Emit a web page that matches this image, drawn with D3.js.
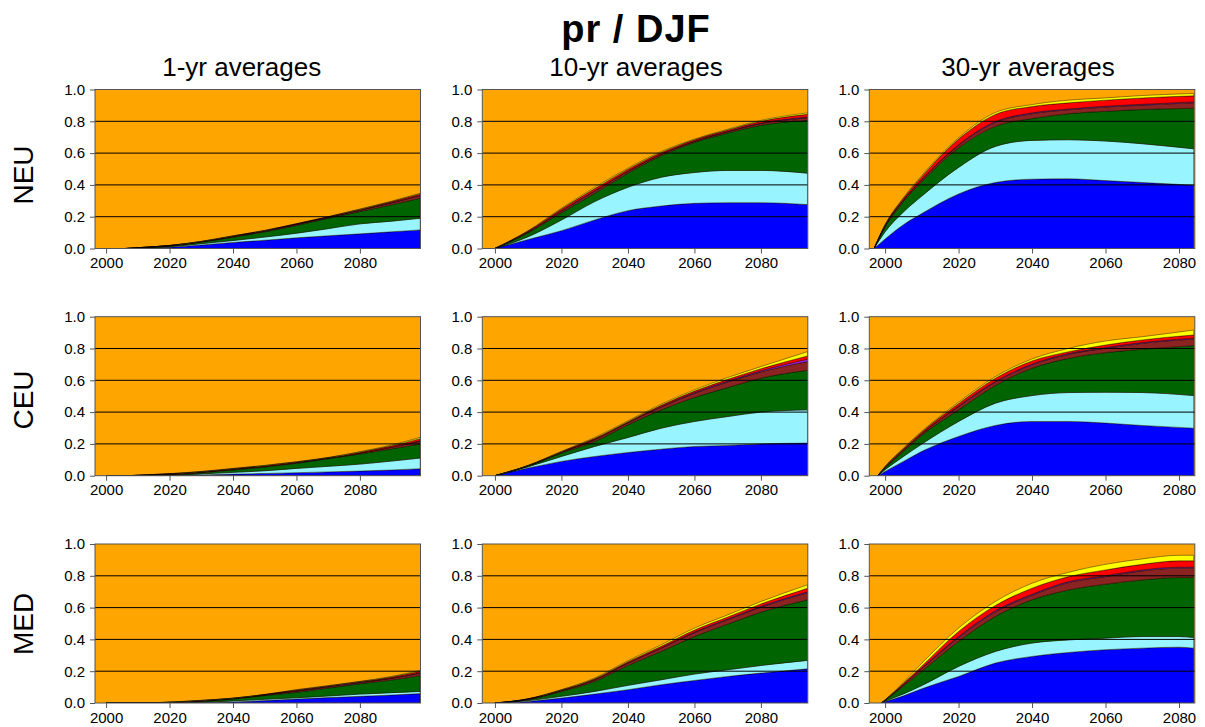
<!DOCTYPE html>
<html>
<head>
<meta charset="utf-8">
<script src="https://cdn.jsdelivr.net/npm/d3@7"></script>
<style>
  html, body { margin: 0; padding: 0; background: #ffffff; }
  svg { display: block; }
</style>
</head>
<body>
<script>
// ---------- DATA ----------
const title = "pr / DJF";
const regions = ["NEU", "CEU", "MED"];
const windows = ["1-yr averages", "10-yr averages", "30-yr averages"];
const layerKeys = ["blue", "cyan", "green", "brown", "purple", "red", "yellow"];
const layerColors = ["#0000FF", "#98F5FF", "#006400", "#8B2323", "#A020F0", "#FF0000", "#FFFF00"];
const backgroundColor = "#FFA500";
const yTicks = [0, 0.2, 0.4, 0.6, 0.8, 1.0];
const xTicks = [2000, 2020, 2040, 2060, 2080];

const years1 = [2000, 2006, 2010, 2020, 2030, 2040, 2050, 2060, 2070, 2080, 2090, 2099];
const years10 = [2000, 2010, 2020, 2030, 2040, 2050, 2060, 2070, 2080, 2094];
const years30NEU = [1997, 2000, 2005, 2010, 2020, 2030, 2040, 2050, 2060, 2070, 2084];
const years30CEU = [1998, 2000, 2005, 2010, 2020, 2030, 2040, 2050, 2060, 2070, 2084];
const years30MED = [1999, 2000, 2005, 2010, 2020, 2030, 2040, 2050, 2060, 2070, 2080, 2084];

// each row: [blue, cyan, green, brown, purple, red, yellow]
const NEU_1yr = [
  [0,0,0,0,0,0,0],
  [0,0,0,0,0,0,0],
  [.001,.001,.002,.001,0,0,0],
  [.008,.003,.005,.002,0,.001,0],
  [.022,.008,.010,.002,.001,.001,.001],
  [.038,.012,.021,.004,.001,.003,.001],
  [.052,.020,.033,.004,.001,.003,.001],
  [.067,.029,.049,.006,.001,.003,.001],
  [.080,.045,.065,.005,.001,.003,.001],
  [.092,.063,.077,.008,.002,.004,.002],
  [.105,.067,.103,.012,.002,.006,.003],
  [.117,.073,.126,.016,.003,.008,.004]
];
const NEU_10yr = [
  [0,0,0,0,0,0,0],
  [.057,.017,.025,.005,.001,.005,.002],
  [.112,.067,.046,.010,.003,.010,.005],
  [.180,.115,.052,.013,.004,.013,.008],
  [.238,.147,.089,.011,.003,.011,.006],
  [.267,.181,.135,.009,.003,.009,.006],
  [.284,.194,.189,.007,.002,.008,.004],
  [.288,.203,.235,.008,.003,.008,.005],
  [.288,.203,.284,.011,.003,.011,.006],
  [.276,.198,.332,.016,.005,.017,.009]
];
const NEU_30yr = [
  [0,0,0,0,0,0,0],
  [.060,.045,.030,.006,.002,.005,.002],
  [.150,.080,.065,.009,.002,.010,.004],
  [.220,.110,.090,.012,.003,.018,.007],
  [.343,.167,.122,.017,.004,.035,.008],
  [.415,.227,.126,.025,.005,.045,.012],
  [.436,.244,.137,.031,.005,.040,.012],
  [.438,.246,.164,.025,.005,.038,.017],
  [.427,.249,.187,.027,.005,.038,.014],
  [.415,.244,.215,.028,.005,.040,.015],
  [.398,.229,.255,.035,.005,.038,.015]
];
const CEU_1yr = [
  [0,0,0,0,0,0,0],
  [0,0,0,0,0,0,0],
  [0,0,.001,.001,0,.001,0],
  [.001,.001,.004,.003,.001,.002,.001],
  [.005,.006,.008,.003,.001,.002,.002],
  [.010,.011,.015,.004,.001,.003,.002],
  [.014,.017,.024,.004,.001,.003,.002],
  [.019,.027,.032,.004,.001,.003,.002],
  [.024,.035,.048,.003,.001,.002,.002],
  [.029,.044,.063,.006,.001,.005,.003],
  [.036,.056,.077,.010,.002,.007,.005],
  [.044,.067,.088,.017,.004,.013,.008]
];
const CEU_10yr = [
  [0,0,0,0,0,0,0],
  [.048,.008,.005,.002,0,.001,.001],
  [.090,.031,.021,.005,.001,.003,.002],
  [.121,.063,.031,.012,.002,.006,.005],
  [.146,.094,.080,.013,.002,.005,.005],
  [.167,.132,.115,.018,.004,.007,.007],
  [.184,.157,.151,.026,.005,.009,.008],
  [.190,.182,.182,.035,.006,.011,.011],
  [.200,.200,.213,.040,.007,.013,.013],
  [.205,.209,.249,.055,.015,.020,.027]
];
const CEU_30yr = [
  [0,0,0,0,0,0,0],
  [.027,.011,.010,.004,.001,.004,.002],
  [.090,.031,.032,.009,.002,.006,.004],
  [.153,.046,.056,.009,.002,.009,.005],
  [.247,.094,.073,.021,.004,.015,.008],
  [.316,.140,.111,.021,.005,.020,.010],
  [.341,.163,.172,.021,.005,.020,.012],
  [.341,.182,.215,.026,.005,.011,.021],
  [.331,.194,.249,.027,.005,.016,.025],
  [.316,.207,.272,.038,.005,.016,.020],
  [.299,.205,.314,.042,.005,.020,.031]
];
const MED_1yr = [
  [0,0,0,0,0,0,0],
  [0,0,0,0,0,0,0],
  [0,0,0,0,0,0,0],
  [0,.001,.001,.002,0,.001,.001],
  [.001,.003,.006,.003,.001,.002,.001],
  [.006,.007,.012,.003,.001,.001,.001],
  [.015,.008,.024,.003,.001,.002,.001],
  [.025,.008,.034,.008,.002,.004,.003],
  [.034,.010,.050,.007,.002,.004,.002],
  [.042,.014,.065,.007,.002,.004,.002],
  [.050,.015,.080,.010,.002,.006,.004],
  [.059,.014,.099,.015,.003,.009,.006]
];
const MED_10yr = [
  [0,0,0,0,0,0,0],
  [.010,.005,.006,.003,.001,.001,.001],
  [.031,.011,.031,.005,.001,.003,.002],
  [.056,.017,.063,.010,.002,.005,.004],
  [.084,.027,.125,.014,.003,.007,.006],
  [.115,.031,.178,.020,.004,.009,.009],
  [.142,.040,.236,.025,.004,.012,.012],
  [.167,.042,.287,.028,.004,.013,.013],
  [.188,.048,.335,.032,.005,.015,.015],
  [.215,.053,.381,.045,.005,.022,.022]
];
const MED_30yr = [
  [0,0,0,0,0,0,0],
  [.008,.003,.006,.001,0,.001,.001],
  [.045,.012,.050,.008,.002,.007,.006],
  [.090,.020,.090,.017,.003,.013,.017],
  [.167,.063,.157,.025,.006,.032,.021],
  [.251,.073,.220,.030,.006,.033,.025],
  [.293,.084,.272,.029,.006,.038,.031],
  [.318,.079,.314,.047,.006,.031,.027],
  [.335,.073,.339,.048,.006,.036,.035],
  [.345,.073,.356,.057,.006,.035,.034],
  [.351,.067,.371,.059,.006,.040,.035],
  [.345,.067,.377,.059,.006,.040,.035]
];

const panelData = [
  [{years: years1, vals: NEU_1yr}, {years: years10, vals: NEU_10yr}, {years: years30NEU, vals: NEU_30yr}],
  [{years: years1, vals: CEU_1yr}, {years: years10, vals: CEU_10yr}, {years: years30CEU, vals: CEU_30yr}],
  [{years: years1, vals: MED_1yr}, {years: years10, vals: MED_10yr}, {years: years30MED, vals: MED_30yr}]
];

// ---------- LAYOUT ----------
const W = 1205, H = 727;
const FONT = "'Liberation Sans', Arial, Helvetica, sans-serif";
const colLeft = [95, 482.3, 869.3];
const rowTop = [89.5, 316.7, 544];
const pw = 325.5, ph = 159;
const xDomains = [[1996.5, 2099.1], [1996.2, 2094.1], [1995.7, 2084.3]];
const colTitleX = [241.7, 636, 1028];
const rowLabelY = [175, 400, 624];

const svg = d3.select("body").append("svg")
  .attr("width", W).attr("height", H)
  .style("background", "#ffffff");

svg.append("text")
  .attr("x", 636).attr("y", 42)
  .attr("text-anchor", "middle")
  .attr("font-family", FONT).attr("font-weight", "bold")
  .attr("font-size", 38).attr("letter-spacing", 1)
  .attr("fill", "#000")
  .text(title);

windows.forEach((w, c) => {
  svg.append("text")
    .attr("x", colTitleX[c]).attr("y", 76)
    .attr("text-anchor", "middle")
    .attr("font-family", FONT).attr("font-size", 26)
    .attr("fill", "#000")
    .text(w);
});

regions.forEach((r, i) => {
  svg.append("text")
    .attr("transform", `translate(33,${rowLabelY[i]}) rotate(-90)`)
    .attr("text-anchor", "middle")
    .attr("font-family", FONT).attr("font-size", 28)
    .attr("fill", "#000")
    .text(r);
});

const stack = d3.stack().keys(layerKeys);

panelData.forEach((row, ri) => {
  row.forEach((p, ci) => {
    const g = svg.append("g")
      .attr("transform", `translate(${colLeft[ci]},${rowTop[ri]})`);
    const x = d3.scaleLinear().domain(xDomains[ci]).range([0, pw]);
    const y = d3.scaleLinear().domain([0, 1]).range([ph, 0]);

    const clipId = `clip-${ri}-${ci}`;
    g.append("clipPath").attr("id", clipId)
      .append("rect").attr("width", pw).attr("height", ph);

    g.append("rect").attr("width", pw).attr("height", ph)
      .attr("fill", backgroundColor);

    const rows = p.years.map((yr, i) => {
      const o = {year: yr};
      layerKeys.forEach((k, j) => { o[k] = p.vals[i][j]; });
      return o;
    });
    const series = stack(rows);
    const area = d3.area()
      .x(d => x(d.data.year))
      .y0(d => y(d[0]))
      .y1(d => y(d[1]))
      .curve(d3.curveMonotoneX);

    const ga = g.append("g").attr("clip-path", `url(#${clipId})`);
    ga.selectAll("path.layer").data(series).join("path")
      .attr("class", "layer")
      .attr("d", area)
      .attr("fill", (d, i) => layerColors[i])
      .attr("stroke", "#000")
      .attr("stroke-width", 0.5)
      .attr("stroke-opacity", 0.85);

    g.selectAll("line.grid").data([0.2, 0.4, 0.6, 0.8]).join("line")
      .attr("class", "grid")
      .attr("x1", 0).attr("x2", pw)
      .attr("y1", d => y(d)).attr("y2", d => y(d))
      .attr("stroke", "#000").attr("stroke-width", 1);

    g.append("rect").attr("width", pw).attr("height", ph)
      .attr("fill", "none").attr("stroke", "#555").attr("stroke-width", 1);

    const ya = g.append("g")
      .call(d3.axisLeft(y).tickValues(yTicks).tickFormat(d3.format(".1f"))
        .tickSize(5).tickPadding(5));
    ya.select(".domain").remove();
    ya.attr("font-family", FONT).attr("font-size", 15);
    ya.selectAll(".tick line").attr("stroke", "#555");
    ya.selectAll(".tick text").attr("fill", "#000");

    const xa = g.append("g").attr("transform", `translate(0,${ph})`)
      .call(d3.axisBottom(x).tickValues(xTicks).tickFormat(d => String(d))
        .tickSize(5).tickPadding(4));
    xa.select(".domain").remove();
    xa.attr("font-family", FONT).attr("font-size", 15);
    xa.selectAll(".tick line").attr("stroke", "#555");
    xa.selectAll(".tick text").attr("fill", "#000");
  });
});
</script>
</body>
</html>
